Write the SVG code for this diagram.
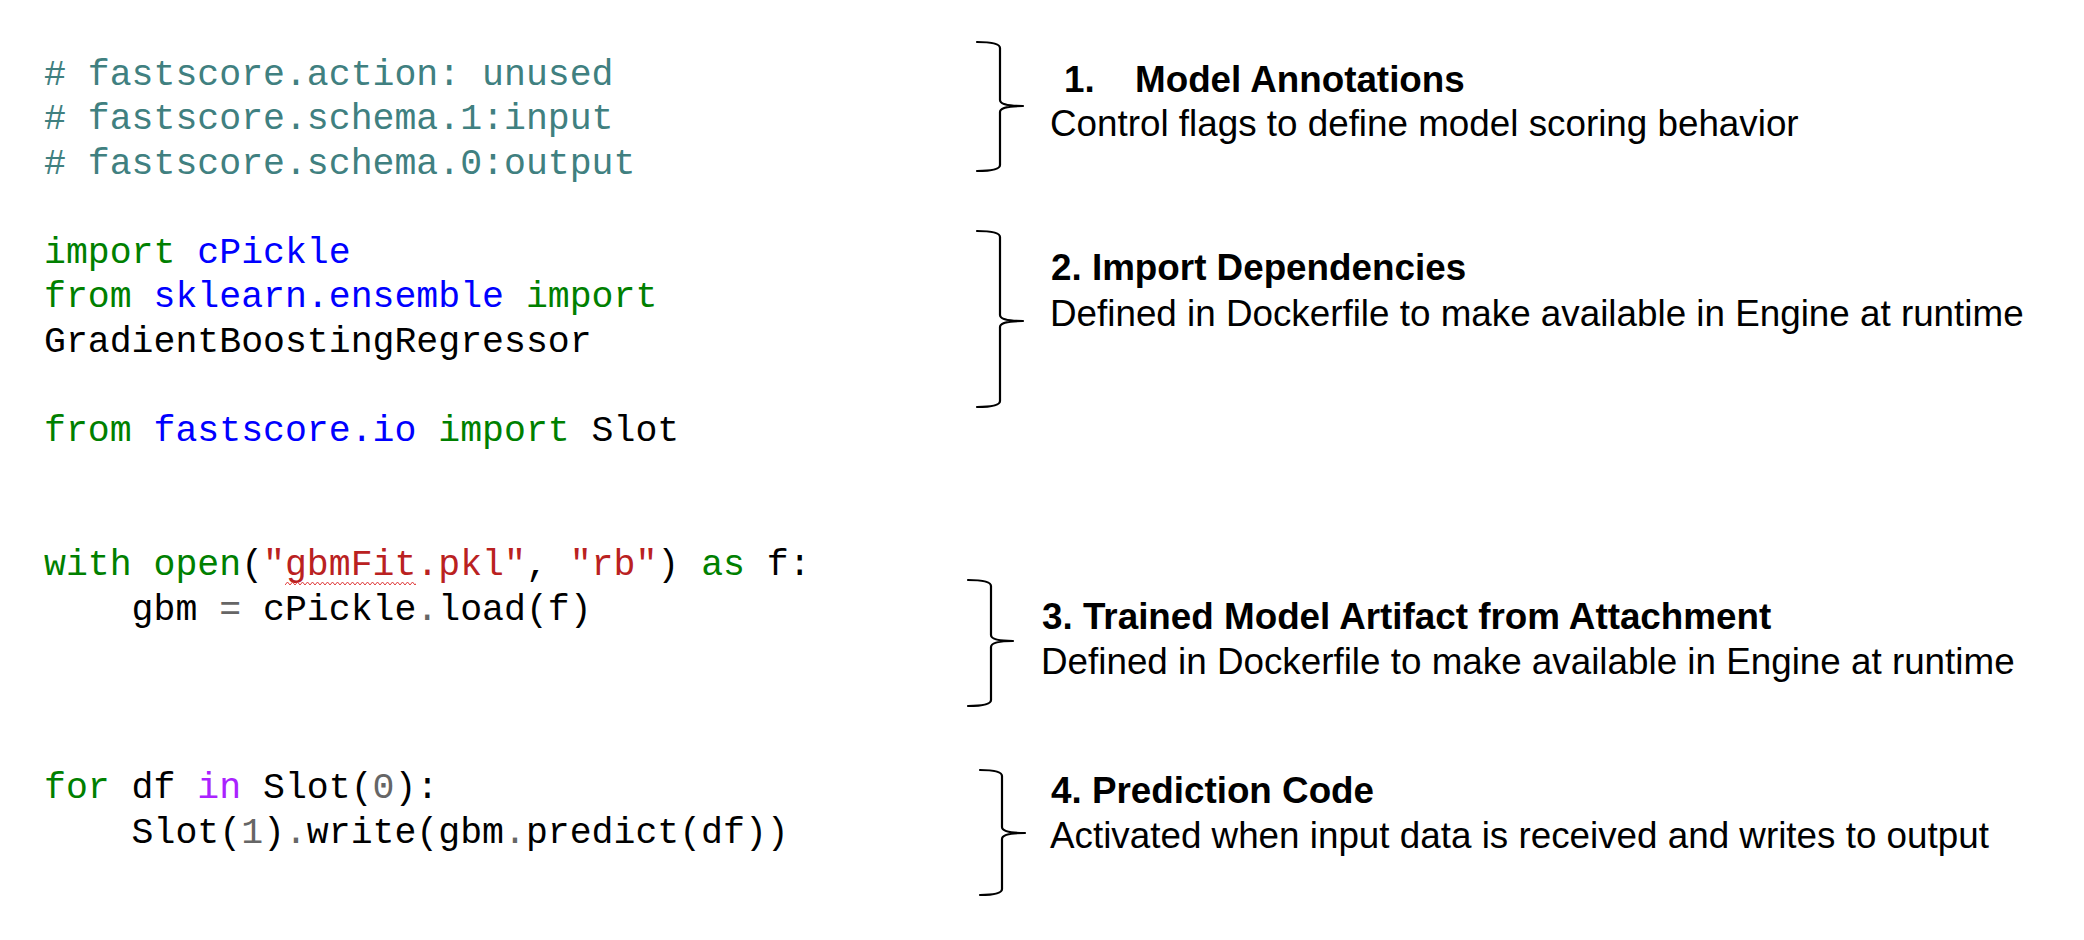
<svg xmlns="http://www.w3.org/2000/svg" width="2084" height="940" viewBox="0 0 2084 940">
<style>
.code{font-family:"Courier New","Liberation Mono",monospace;font-size:36.5px;fill:#000;}
.cm{fill:#408080;}
.kw{fill:#008000;}
.ns{fill:#0000ff;}
.st{fill:#ba2121;}
.op{fill:#666666;}
.ow{fill:#aa22ff;}
.title{font-family:"Liberation Sans",Arial,Helvetica,sans-serif;font-size:36.8px;font-weight:bold;fill:#000;}
.desc{font-family:"Liberation Sans",Arial,Helvetica,sans-serif;font-size:36.8px;fill:#000;}
.brace{fill:none;stroke:#000;stroke-width:2.2;stroke-linejoin:round;stroke-linecap:round;}
</style>
<defs>
<pattern id="squiggle" patternUnits="userSpaceOnUse" x="285" y="581" width="5" height="5">
<path d="M0,4 L2.5,1 L5,4" fill="none" stroke="#e03a3a" stroke-width="1"/>
</pattern>
</defs>
<rect width="2084" height="940" fill="#ffffff"/>

<g id="code-annotations">
<text class="code cm" x="44" y="85"># fastscore.action: unused</text>
<text class="code cm" x="44" y="129"># fastscore.schema.1:input</text>
<text class="code cm" x="44" y="174"># fastscore.schema.0:output</text>
</g>

<g id="code-imports">
<text class="code" x="44" y="263"><tspan class="kw">import</tspan> <tspan class="ns">cPickle</tspan></text>
<text class="code" x="44" y="307"><tspan class="kw">from</tspan> <tspan class="ns">sklearn.ensemble</tspan> <tspan class="kw">import</tspan></text>
<text class="code" x="44" y="352">GradientBoostingRegressor</text>
<text class="code" x="44" y="441"><tspan class="kw">from</tspan> <tspan class="ns">fastscore.io</tspan> <tspan class="kw">import</tspan> Slot</text>
</g>

<g id="code-artifact">
<text class="code" x="44" y="575"><tspan class="kw">with</tspan> <tspan class="kw">open</tspan>(<tspan class="st">"gbmFit.pkl"</tspan>, <tspan class="st">"rb"</tspan>) <tspan class="kw">as</tspan> f:</text>
<rect x="285" y="581" width="131" height="5" fill="url(#squiggle)"/>
<text class="code" x="131.6" y="620">gbm <tspan class="op">=</tspan> cPickle<tspan class="op">.</tspan>load(f)</text>
</g>

<g id="code-prediction">
<text class="code" x="44" y="798"><tspan class="kw">for</tspan> df <tspan class="ow">in</tspan> Slot(<tspan class="op">0</tspan>):</text>
<text class="code" x="131.6" y="843">Slot(<tspan class="op">1</tspan>)<tspan class="op">.</tspan>write(gbm<tspan class="op">.</tspan>predict(df))</text>
</g>

<g id="connectors">
<path id="brace-1" class="brace" d="M977,42 Q1000,42 1000,48 L1000,100 Q1000,106 1023,106 Q1000,106 1000,112 L1000,165 Q1000,171 977,171"/>
<path id="brace-2" class="brace" d="M977,231 Q1000,231 1000,237 L1000,315 Q1000,321 1023,321 Q1000,321 1000,327 L1000,401 Q1000,407 977,407"/>
<path id="brace-3" class="brace" d="M968,580 Q991,580 991,586 L991,635 Q991,641 1013,641 Q991,641 991,647 L991,700 Q991,706 968,706"/>
<path id="brace-4" class="brace" d="M980,770 Q1002,770 1002,776 L1002,827 Q1002,833 1025,833 Q1002,833 1002,839 L1002,889 Q1002,895 980,895"/>
</g>

<g id="label-annotations">
<text class="title" x="1064" y="92">1.</text>
<text class="title" x="1135" y="92">Model Annotations</text>
<text class="desc" x="1050" y="136">Control flags to define model scoring behavior</text>
</g>

<g id="label-imports">
<text class="title" x="1051" y="280">2. Import Dependencies</text>
<text class="desc" x="1050" y="326">Defined in Dockerfile to make available in Engine at runtime</text>
</g>

<g id="label-artifact">
<text class="title" x="1042" y="629">3. Trained Model Artifact from Attachment</text>
<text class="desc" x="1041" y="674">Defined in Dockerfile to make available in Engine at runtime</text>
</g>

<g id="label-prediction">
<text class="title" x="1051" y="803">4. Prediction Code</text>
<text class="desc" x="1050" y="848">Activated when input data is received and writes to output</text>
</g>
</svg>
